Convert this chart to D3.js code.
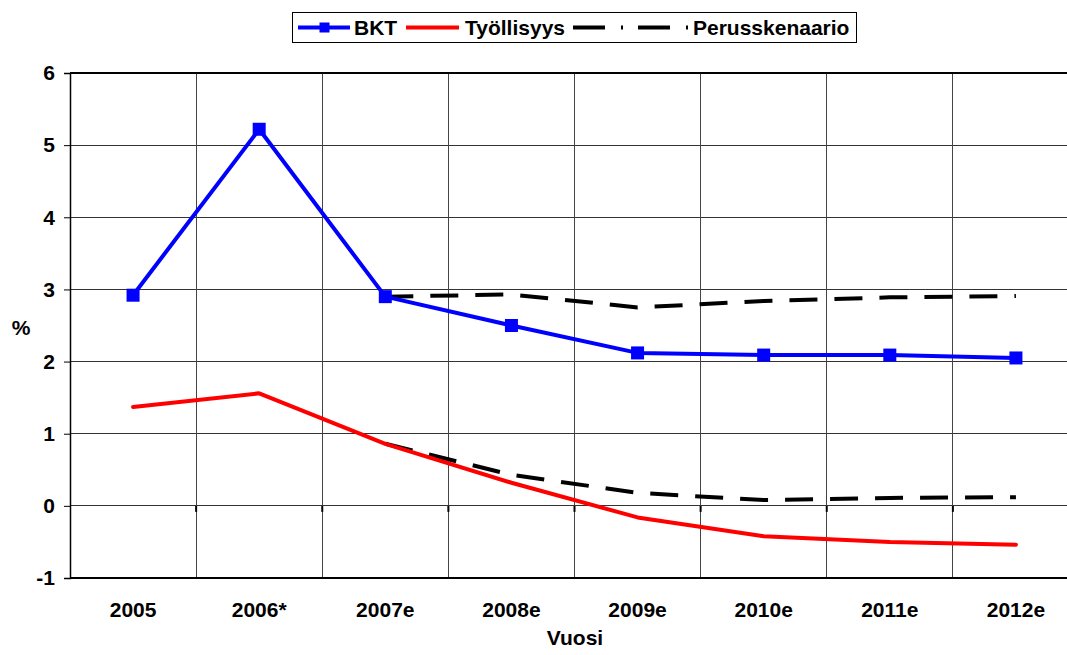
<!DOCTYPE html>
<html>
<head>
<meta charset="utf-8">
<script src="https://cdn.jsdelivr.net/npm/d3@7"></script>
<style>
  html, body { margin: 0; padding: 0; background: #fff; }
  svg { display: block; }
  text { font-family: "Liberation Sans", Arial, sans-serif; font-weight: bold; fill: #000; }
</style>
</head>
<body>
<script>
const categories = ["2005", "2006*", "2007e", "2008e", "2009e", "2010e", "2011e", "2012e"];
const bkt = [2.92, 5.22, 2.90, 2.50, 2.12, 2.09, 2.09, 2.05];
const tyollisyys = [1.37, 1.56, 0.86, 0.32, -0.16, -0.42, -0.50, -0.54];
const perusBkt = [null, null, 2.90, 2.93, 2.75, 2.84, 2.89, 2.91];
const perusTyo = [null, null, 0.86, 0.43, 0.18, 0.08, 0.11, 0.12];
const yTicks = [-1, 0, 1, 2, 3, 4, 5, 6];
const legendLabels = ["BKT", "Työllisyys", "Perusskenaario"];
const xTitle = "Vuosi";
const yTitle = "%";

const W = 1067, H = 655;
const pLeft = 70, pTop = 73, pBottom = 578, pRight = 1079;
const FS = "21px";

const svg = d3.select("body").append("svg").attr("width", W).attr("height", H);

const x = d3.scaleBand().domain(categories).range([pLeft, pRight]).padding(0);
const y = d3.scaleLinear().domain([-1, 6]).range([pBottom, pTop]);
const cx = c => x(c) + x.bandwidth() / 2;

const g = svg.append("g");

// horizontal gridlines
g.selectAll("line.h").data(yTicks).join("line")
  .attr("x1", pLeft).attr("x2", pRight)
  .attr("y1", d => y(d)).attr("y2", d => y(d))
  .attr("stroke", "#333").attr("stroke-width", 1)
  .attr("shape-rendering", "crispEdges");

// vertical gridlines at category boundaries
g.selectAll("line.v").data(categories.slice(1)).join("line")
  .attr("x1", d => x(d)).attr("x2", d => x(d))
  .attr("y1", pTop).attr("y2", pBottom)
  .attr("stroke", "#444").attr("stroke-width", 1)
  .attr("shape-rendering", "crispEdges");

// small category ticks on the zero line
g.selectAll("line.zt").data(categories.slice(1)).join("line")
  .attr("x1", d => x(d)).attr("x2", d => x(d))
  .attr("y1", y(0)).attr("y2", y(0) + 6)
  .attr("stroke", "#000").attr("stroke-width", 2);

// border lines
g.append("line").attr("x1", pLeft).attr("x2", pRight).attr("y1", pTop).attr("y2", pTop)
  .attr("stroke", "#000").attr("stroke-width", 2);
g.append("line").attr("x1", pLeft).attr("x2", pRight).attr("y1", pBottom).attr("y2", pBottom)
  .attr("stroke", "#000").attr("stroke-width", 2);

// y axis
const yAxis = d3.axisLeft(y).tickValues(yTicks).tickSize(6).tickPadding(9).tickFormat(d => String(d));
const ya = svg.append("g").attr("transform", `translate(${pLeft},0)`).call(yAxis);
ya.select(".domain").attr("stroke", "#000").attr("stroke-width", 1.5);
ya.selectAll(".tick line").attr("stroke", "#000");
ya.selectAll(".tick text").style("font-size", FS).style("font-family", "Liberation Sans, Arial, sans-serif").style("font-weight", "bold");

// x axis labels
const xAxis = d3.axisBottom(x).tickSize(0).tickPadding(24);
const xa = svg.append("g").attr("transform", `translate(0,${pBottom})`).call(xAxis);
xa.select(".domain").remove();
xa.selectAll(".tick text").style("font-size", FS).style("font-family", "Liberation Sans, Arial, sans-serif").style("font-weight", "bold");

// titles
svg.append("text").attr("x", 575).attr("y", 645).attr("text-anchor", "middle")
  .style("font-size", FS).text(xTitle);
svg.append("text").attr("x", 21).attr("y", 335).attr("text-anchor", "middle")
  .style("font-size", FS).text(yTitle);

// lines
const lineGen = (arr) => d3.line()
  .defined((d, i) => arr[i] !== null)
  .x((d, i) => cx(categories[i]))
  .y((d, i) => y(arr[i]));

const plot = svg.append("g");
plot.append("path").attr("d", lineGen(perusBkt)(perusBkt))
  .attr("fill", "none").attr("stroke", "#000").attr("stroke-width", 4).attr("stroke-dasharray", "28,17");
plot.append("path").attr("d", lineGen(perusTyo)(perusTyo))
  .attr("fill", "none").attr("stroke", "#000").attr("stroke-width", 4).attr("stroke-dasharray", "28,17");
plot.append("path").attr("d", lineGen(tyollisyys)(tyollisyys))
  .attr("fill", "none").attr("stroke", "#ff0000").attr("stroke-width", 4).attr("stroke-linejoin", "round").attr("stroke-linecap", "round");
plot.append("path").attr("d", lineGen(bkt)(bkt))
  .attr("fill", "none").attr("stroke", "#0000ff").attr("stroke-width", 4).attr("stroke-linejoin", "round");
plot.selectAll("rect.m").data(bkt).join("rect")
  .attr("x", (d, i) => cx(categories[i]) - 6.5).attr("y", d => y(d) - 6.5)
  .attr("width", 13).attr("height", 13).attr("fill", "#0000ff");

// legend
const lg = svg.append("g");
lg.append("rect").attr("x", 292.5).attr("y", 12.5).attr("width", 564).attr("height", 30)
  .attr("fill", "#fff").attr("stroke", "#000").attr("stroke-width", 1);
const ly = 27.5;
lg.append("line").attr("x1", 298).attr("x2", 350).attr("y1", ly).attr("y2", ly)
  .attr("stroke", "#0000ff").attr("stroke-width", 4);
lg.append("rect").attr("x", 319.5).attr("y", ly - 5).attr("width", 10).attr("height", 10).attr("fill", "#0000ff");
lg.append("text").attr("x", 354).attr("y", ly + 7.5).style("font-size", FS).text(legendLabels[0]);
lg.append("line").attr("x1", 406).attr("x2", 459).attr("y1", ly).attr("y2", ly)
  .attr("stroke", "#ff0000").attr("stroke-width", 4);
lg.append("text").attr("x", 465).attr("y", ly + 7.5).style("font-size", FS).text(legendLabels[1]);
lg.append("line").attr("x1", 573).attr("x2", 689).attr("y1", ly).attr("y2", ly)
  .attr("stroke", "#000").attr("stroke-width", 4).attr("stroke-dasharray", "32,16,2,15");
lg.append("text").attr("x", 693).attr("y", ly + 7.5).style("font-size", FS).text(legendLabels[2]);
</script>
</body>
</html>
